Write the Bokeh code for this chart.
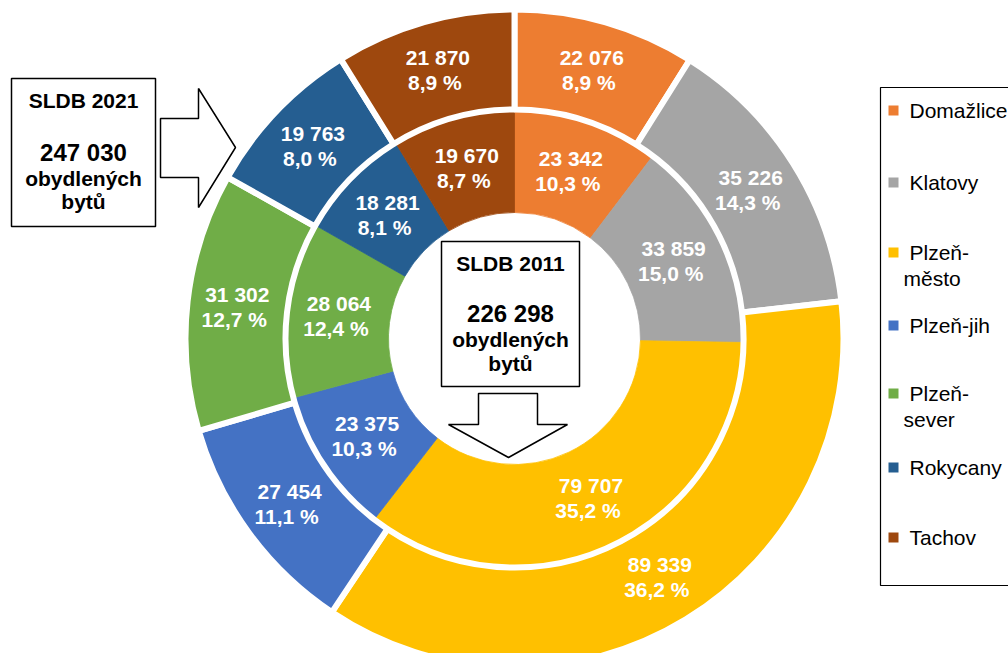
import numpy as np
from bokeh.plotting import figure
from bokeh.models import ColumnDataSource, Range1d
from bokeh.core.properties import value
from bokeh.embed import file_html
from bokeh.resources import INLINE

# ---- data ----
districts = ["Domažlice", "Klatovy", "Plzeň-město", "Plzeň-jih", "Plzeň-sever", "Rokycany", "Tachov"]
legend_lines = [["Domažlice"], ["Klatovy"], ["Plzeň-", "město"], ["Plzeň-jih"], ["Plzeň-", "sever"], ["Rokycany"], ["Tachov"]]
flats_2021 = [22076, 35226, 89339, 27454, 31302, 19763, 21870]
flats_2011 = [23342, 33859, 79707, 23375, 28064, 18281, 19670]
colors = ["#ED7D31", "#A5A5A5", "#FFC000", "#4472C4", "#70AD47", "#255E91", "#9E480E"]

W, H = 1008, 653
FONT = value("Liberation Sans")


def py(ypx):
    # convert a pixel row (from top) into data y (up)
    return H - ypx


cx, cy = 514, py(338)


def fmt_num(v):
    return f"{v:,}".replace(",", " ")


def ring_source(vals, r_label):
    vals = np.array(vals, dtype=float)
    tot = vals.sum()
    frac = vals / tot
    cum_end = np.cumsum(frac)
    cum_start = cum_end - frac
    start = np.pi / 2 - 2 * np.pi * cum_end
    end = np.pi / 2 - 2 * np.pi * cum_start
    mid = (cum_start + cum_end) / 2 * 2 * np.pi
    lx = cx + r_label * np.sin(mid)
    ly = cy + r_label * np.cos(mid)
    nums = [fmt_num(int(v)) for v in vals]
    pcts = [f"{f * 100:.1f}".replace(".", ",") + " %" for f in frac]
    return ColumnDataSource(dict(
        start=start, end=end, color=colors, name=districts,
        nx=lx, ny=ly + 12.5, px_=lx - 3, py_=ly - 12.5, num=nums, pct=pcts,
    ))


p = figure(width=W, height=H, x_range=Range1d(0, W), y_range=Range1d(0, H),
           output_backend="svg", toolbar_location=None, min_border=0)
p.axis.visible = False
p.grid.visible = False
p.outline_line_color = None
p.background_fill_color = "white"
p.border_fill_color = "white"

# inner ring (2011)
src_in = ring_source(flats_2011, 177)
p.annular_wedge(x=cx, y=cy, inner_radius=126, outer_radius=229,
                start_angle="start", end_angle="end", direction="anticlock",
                fill_color="color", line_color="color", line_width=0.8, source=src_in)

# outer ring (2021)
src_out = ring_source(flats_2021, 279)
p.annular_wedge(x=cx, y=cy, inner_radius=229, outer_radius=329,
                start_angle="start", end_angle="end", direction="anticlock",
                fill_color="color", line_color="white", line_width=6, source=src_out)

for src in (src_in, src_out):
    p.text(x="nx", y="ny", text="num", source=src, text_color="white",
           text_font=FONT, text_font_style="bold", text_font_size="21px",
           text_align="center", text_baseline="middle")
    p.text(x="px_", y="py_", text="pct", source=src, text_color="white",
           text_font=FONT, text_font_style="bold", text_font_size="21px",
           text_align="center", text_baseline="middle")

# ---- callout box 2021 (left) ----
p.quad(left=11, right=155, top=py(78), bottom=py(226), fill_color="white",
       line_color="black", line_width=1.5)
p.patch(x=[160, 198, 198, 235, 198, 198, 160],
        y=[py(118), py(118), py(88), py(147), py(207), py(177), py(177)],
        fill_color="white", line_color="black", line_width=1.5)
tot21 = fmt_num(int(sum(flats_2021)))
tot11 = fmt_num(int(sum(flats_2011)))


def box_text(xc, ys, year, total):
    items = [(f"SLDB {year}", "21px"), (total, "24px"), ("obydlených", "21px"), ("bytů", "21px")]
    for (t, s), yy in zip(items, ys):
        p.text(x=[xc], y=[py(yy)], text=[t], text_color="black", text_font=FONT,
               text_font_style="bold", text_font_size=s,
               text_align="center", text_baseline="middle")


box_text(83, [100, 152, 178, 201], 2021, tot21)

# ---- callout box 2011 (centre) ----
p.quad(left=441, right=579, top=py(241), bottom=py(386), fill_color="white",
       line_color="black", line_width=1.5)
p.patch(x=[478, 537, 537, 567, 508, 448, 478],
        y=[py(393), py(393), py(424), py(424), py(457), py(424), py(424)],
        fill_color="white", line_color="black", line_width=1.5)
box_text(510, [263, 313, 339, 363], 2011, tot11)

# ---- legend ----
p.quad(left=880, right=1015, top=py(87), bottom=py(585), fill_color="white",
       line_color="black", line_width=1.2)
entry_y = [110, 182, 252, 325, 393, 467, 537]
p.rect(x=[893] * len(colors), y=[py(v) for v in entry_y], width=10, height=10,
       fill_color=colors, line_color=None)
lx, ly, lt = [], [], []
for lines, yy in zip(legend_lines, entry_y):
    lx.append(909); ly.append(py(yy)); lt.append(lines[0])
    if len(lines) > 1:
        lx.append(903); ly.append(py(yy + 26)); lt.append(lines[1])
p.text(x=lx, y=ly, text=lt, text_color="black", text_font=FONT,
       text_font_size="21px", text_align="left", text_baseline="middle")

open("out.html", "w").write(file_html(p, INLINE))
